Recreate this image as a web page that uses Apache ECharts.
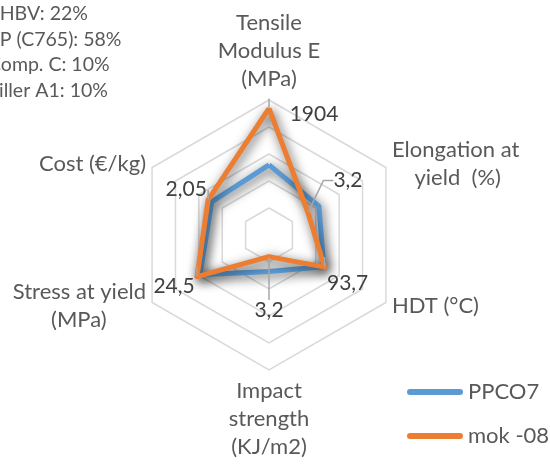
<!DOCTYPE html>
<html>
<head>
<meta charset="utf-8">
<script src="https://cdn.jsdelivr.net/npm/echarts@6/dist/echarts.min.js"></script>
<style>
  html, body { margin: 0; padding: 0; background: #ffffff; }
  #chart { width: 550px; height: 465px; }
</style>
</head>
<body>
<div id="chart"></div>
<script>
// Radar indicators, listed counter-clockwise starting at the top
const indicatorNames = [
  'Tensile\nModulus E\n(MPa)',
  'Cost (€/kg)',
  'Stress at yield\n(MPa)       ',
  'Impact\nstrength\n(KJ/m2)',
  'HDT (°C)',
  'Elongation at\n    yield  (%)'
];
const indicatorMax = [2030, 3.94, 39.8, 20, 197, 9.6];

// Series values in the same indicator order
const seriesNames = ['PPCO7', 'mok -08'];
const ppco7Values = [1055, 1.93, 23.5, 5.4, 92.5, 4.1];
const mok08Values = [1904, 2.05, 24.5, 3.2, 93.7, 3.2];

// Formulation note in the top-left corner
const formulationLines = ['PHBV: 22%', 'PP (C765): 58%', 'Comp. C: 10%', 'Filler A1: 10%'];

const FONT = 'Lato, "Open Sans", sans-serif';
const RADAR_CENTER = [269, 235];
const RADAR_RADIUS = 135;
const BLUE = '#5B9BD5';
const ORANGE = '#ED7D31';

// Offset of each value label from its vertex, per indicator
const LABEL_SHIFT = [[45, 6], [-22, -11], [-23, 10], [0, 54], [23, 16], [40, -32]];

function formatValue(v) {
  return String(v).replace('.', ',');
}

function labelShift(p) {
  if (!p.text) return {};
  const px = p.rect.x + p.rect.width / 2;
  const py = p.rect.y + p.rect.height / 2;
  const a = Math.atan2(RADAR_CENTER[1] - py, px - RADAR_CENTER[0]);
  let k = Math.round((a - Math.PI / 2) / (Math.PI / 3));
  k = ((k % 6) + 6) % 6;
  return { dx: LABEL_SHIFT[k][0], dy: LABEL_SHIFT[k][1] };
}

const lineShadow = {
  shadowColor: 'rgba(0,0,0,0.7)',
  shadowBlur: 11,
  shadowOffsetX: 2,
  shadowOffsetY: 3
};

const labelText = {
  fontFamily: FONT,
  fontSize: 21,
  color: '#404040'
};

const chart = echarts.init(document.getElementById('chart'), null, { renderer: 'canvas' });

chart.setOption({
  animation: false,
  backgroundColor: '#ffffff',
  radar: {
    center: RADAR_CENTER,
    radius: RADAR_RADIUS,
    startAngle: 90,
    shape: 'polygon',
    splitNumber: 5,
    nameGap: 7,
    indicator: indicatorNames.map((name, i) => ({ name: name, min: 0, max: indicatorMax[i] })),
    axisName: {
      color: '#595959',
      fontFamily: FONT,
      fontSize: 22,
      lineHeight: 28
    },
    axisLine: { show: false },
    axisTick: { show: false },
    axisLabel: { show: false },
    splitArea: { show: false },
    splitLine: { lineStyle: { color: '#D9D9D9', width: 1.5 } }
  },
  legend: {
    data: seriesNames,
    orient: 'vertical',
    left: 402,
    top: 376,
    itemWidth: 56,
    itemHeight: 6,
    itemGap: 22,
    icon: 'path://M3,0H53A3,3,0,0,1,53,6H3A3,3,0,0,1,3,0Z',
    itemStyle: { borderWidth: 0, shadowBlur: 0, shadowColor: 'transparent' },
    textStyle: { fontFamily: FONT, fontSize: 22, color: '#595959' }
  },
  graphic: [{
    type: 'text',
    left: -12,
    top: 1,
    style: {
      text: formulationLines.join('\n'),
      font: '19.5px ' + FONT,
      lineHeight: 25.5,
      fill: '#595959'
    }
  }],
  series: [
    {
      type: 'radar',
      name: seriesNames[0],
      symbol: 'none',
      itemStyle: { color: BLUE },
      lineStyle: Object.assign({ color: BLUE, width: 5 }, lineShadow),
      data: [{ name: seriesNames[0], value: ppco7Values }]
    },
    {
      type: 'radar',
      name: seriesNames[1],
      symbol: 'circle',
      symbolSize: 1,
      itemStyle: { color: ORANGE },
      lineStyle: Object.assign({ color: ORANGE, width: 5 }, lineShadow),
      label: Object.assign({
        show: true,
        position: 'inside',
        formatter: p => (p.value === 3.2 ? '' : formatValue(p.value))
      }, labelText),
      labelLayout: labelShift,
      data: [{ name: seriesNames[1], value: mok08Values }]
    },
    {
      // value labels that sit away from their vertex, with leader lines
      type: 'radar',
      name: 'mok -08 leaders',
      symbol: 'circle',
      symbolSize: 1,
      itemStyle: { color: ORANGE },
      lineStyle: { width: 0, opacity: 0 },
      label: Object.assign({
        show: true,
        position: 'inside',
        formatter: p => (p.value === 3.2 ? formatValue(p.value) : '')
      }, labelText),
      labelLine: {
        show: true,
        length2: 10,
        lineStyle: { color: '#A6A6A6', width: 1.5 }
      },
      labelLayout: labelShift,
      data: [{ name: 'mok -08 leaders', value: mok08Values }]
    }
  ]
});
</script>
</body>
</html>
